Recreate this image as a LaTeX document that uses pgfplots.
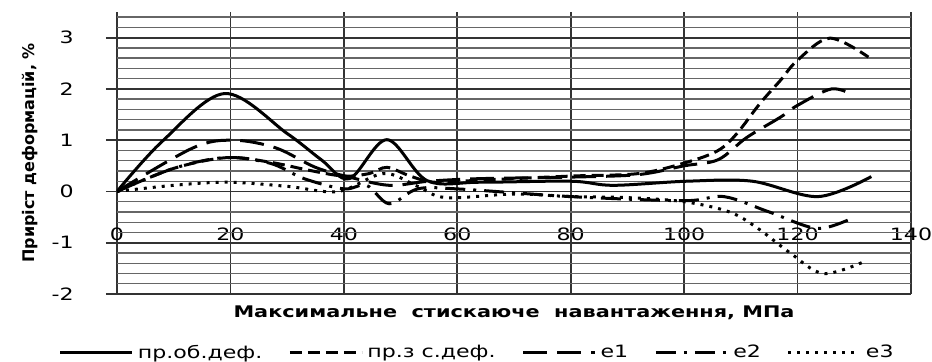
\documentclass[border=0pt]{standalone}
\usepackage{fontspec}
\setmainfont{DejaVu Sans}[FakeStretch=1.3]
\newfontfamily\ylabfont{DejaVu Sans}
\usepackage{pgfplots}
\pgfplotsset{compat=1.18}

\pgfplotstableread{
x y
0 0
8 0.98
19 1.91
30 1.13
36 0.62
41 0.25
47.6 1.01
54.7 0.21
64 0.18
80 0.2
87.5 0.12
100.5 0.2
112 0.2
123.6 -0.1
133 0.29
}\obdef

\pgfplotstableread{
x y
0 0
10 0.45
19.4 0.66
27 0.57
34 0.41
40 0.3
44.5 0.35
47.6 0.47
51.7 0.3
56 0.18
64 0.22
80 0.3
92 0.35
100.5 0.57
106 0.8
109.3 1.13
113.4 1.72
117 2.17
120 2.56
125.7 2.99
132.5 2.62
}\zsdef

\pgfplotstableread{
x y
0 0
13.4 0.85
20.5 1.0
28 0.85
35 0.47
41 0.28
48 0.12
55 0.2
64 0.25
80 0.28
92 0.33
100 0.5
106 0.62
111 1.05
117 1.45
120 1.68
126 2.0
130 1.87
}\eone

\pgfplotstableread{
x y
0 0
10 0.45
19 0.66
27 0.55
33 0.25
40 0.05
44 0.12
48 -0.24
53 0.05
60 0.05
80 -0.1
100 -0.18
107 -0.1
115 -0.4
123.5 -0.72
130 -0.5
}\etwo

\pgfplotstableread{
x y
0 0
10 0.12
19.5 0.18
30 0.1
39 0
47 0.35
53 0.1
58 -0.12
70 -0.05
80 -0.1
90 -0.12
100 -0.2
108 -0.4
113 -0.72
118.7 -1.2
124.5 -1.6
131.5 -1.38
}\ethree

\begin{document}
\begin{tikzpicture}
\begin{axis}[
  scale only axis,
  width=397pt, height=141pt,
  xmin=0, xmax=140, ymin=-2, ymax=3.5,
  axis lines*=left,
  axis line style={-, black!80, line width=0.9pt},
  xtick={0,20,...,140},
  ytick={-2,-1,0,1,2,3},
  yticklabels={-2,-1,0,1,2,3},
  extra y ticks={-1.8,-1.6,-1.4,-1.2,-0.8,-0.6,-0.4,-0.2,0.2,0.4,0.6,0.8,1.2,1.4,1.6,1.8,2.2,2.4,2.6,2.8,3.2,3.4},
  extra y tick labels={},
  extra y tick style={major grid style={black!60, line width=0.7pt}, major tick length=0pt},
  ymajorgrids, xmajorgrids,
  major grid style={black!80, line width=0.9pt},
  ytick pos=left,
  tick align=outside,
  major tick length=5.5pt,
  xtick style={draw=none},
  ytick style={black!80, line width=0.9pt},
  tick label style={font=\fontsize{8.5}{9}\selectfont},
  /pgf/number format/assume math mode=true,
  xticklabel style={anchor=center, yshift=35.5pt},
  yticklabel style={anchor=east, inner sep=0pt, xshift=-16pt},
  xlabel={\bfseries Максимальне\ \ стискаюче\ \ навантаження, МПа},
  xlabel style={font=\fontsize{8}{9}\selectfont, at={(axis description cs:0.5,-0.067)}, anchor=center},
  ylabel={\ylabfont\bfseries Приріст деформацій, \%},
  ylabel style={font=\fontsize{8}{9}\selectfont, at={(axis description cs:-0.11,0.5)}, anchor=center},
  legend columns=5,
  legend style={draw=none, fill=none, at={(axis description cs:0.455,-0.209)}, anchor=center,
    font=\fontsize{8.5}{9}\selectfont,
    /tikz/every even column/.append style={column sep=11pt}},
  legend image code/.code={\draw[#1, line cap=butt] (0pt,0pt) -- (36pt,0pt);},
  every axis plot/.append style={line width=1.5pt, line cap=butt},
]
\addplot[black, smooth, tension=0.55] table {\obdef};
\addlegendentry{пр.об.деф.}
\addplot[black, smooth, tension=0.55, dash pattern=on 6pt off 3pt] table {\zsdef};
\addlegendentry{пр.з с.деф.}
\addplot[black, smooth, tension=0.55, dash pattern=on 12pt off 5pt] table {\eone};
\addlegendentry{e1}
\addplot[black, smooth, tension=0.55, dash pattern=on 10pt off 4pt on 1.5pt off 4pt] table {\etwo};
\addlegendentry{e2}
\addplot[black, smooth, tension=0.55, dash pattern=on 1.5pt off 3pt] table {\ethree};
\addlegendentry{e3}
\end{axis}
\pgfresetboundingbox
\path (-58.5pt,-33.5pt) rectangle (407.5pt,147pt);
\end{tikzpicture}
\end{document}
